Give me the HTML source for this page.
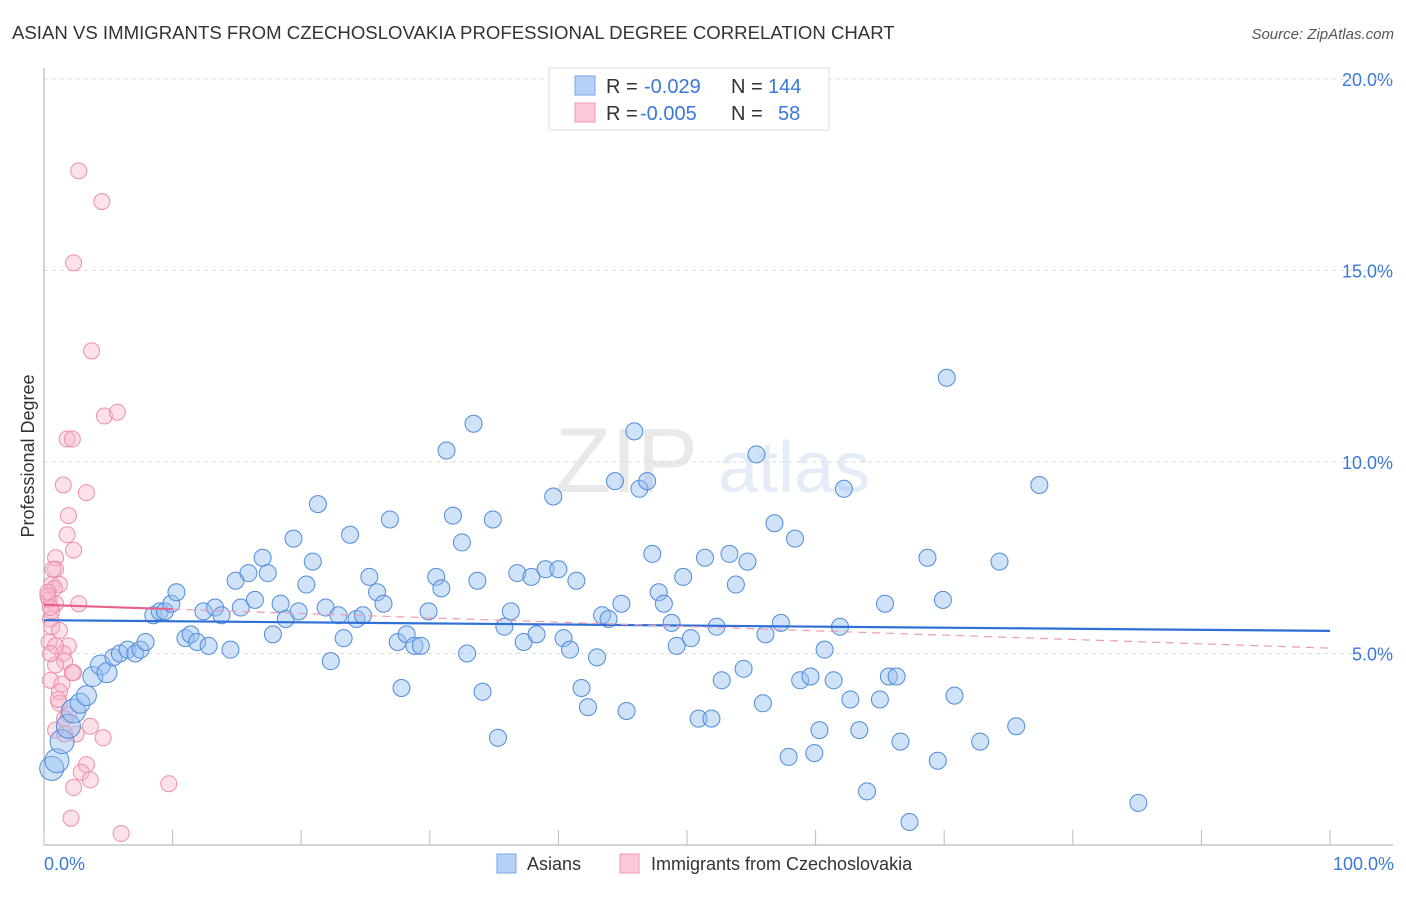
<!DOCTYPE html>
<html><head><meta charset="utf-8"><style>
body{margin:0;background:#fff;font-family:"Liberation Sans",sans-serif;}
svg text{font-family:"Liberation Sans",sans-serif;}
</style></head><body>
<svg width="1406" height="892" viewBox="0 0 1406 892">
<text x="12" y="39" font-size="18.6" fill="#333">ASIAN VS IMMIGRANTS FROM CZECHOSLOVAKIA PROFESSIONAL DEGREE CORRELATION CHART</text>
<text x="1394" y="39" font-size="15" fill="#555" font-style="italic" text-anchor="end">Source: ZipAtlas.com</text>
<g opacity="0.18">
<text x="555" y="492" font-size="92" fill="#888" font-family="Liberation Serif,serif">ZIP</text>
<text x="718" y="492" font-size="72" fill="#6a9ad8">atlas</text>
</g>
<g id="grid"></g>
<g id="axes"></g>
<g id="pink"></g>
<g id="blue"></g>
<g id="trend"></g>
<text x="34" y="456" font-size="18" fill="#333" text-anchor="middle" transform="rotate(-90 34 456)">Professional Degree</text>
<text x="44" y="870" font-size="18" fill="#3b78d8">0.0%</text>
<text x="1394" y="870" font-size="18" fill="#3b78d8" text-anchor="end">100.0%</text>
<g>
<rect x="549" y="68" width="280" height="62" fill="#fff" stroke="#ddd"/>
<rect x="575" y="76" width="20" height="19" fill="#b6d0f5" stroke="#7aa6e6"/>
<rect x="575" y="103" width="20" height="19" fill="#fac8d6" stroke="#ee9ab3"/>
<text x="606" y="93" font-size="20" fill="#333">R = </text><text x="644" y="93" font-size="20" fill="#3b78d8">-0.029</text>
<text x="731" y="93" font-size="20" fill="#333">N = </text><text x="768" y="93" font-size="20" fill="#3b78d8">144</text>
<text x="606" y="120" font-size="20" fill="#333">R = </text><text x="640" y="120" font-size="20" fill="#3b78d8">-0.005</text>
<text x="731" y="120" font-size="20" fill="#333">N = </text><text x="778" y="120" font-size="20" fill="#3b78d8">58</text>
</g>
<g>
<rect x="497" y="854" width="19" height="19" fill="#b6d0f5" stroke="#7aa6e6"/>
<text x="527" y="870" font-size="18" fill="#333">Asians</text>
<rect x="620" y="854" width="19" height="19" fill="#fac8d6" stroke="#ee9ab3"/>
<text x="651" y="870" font-size="18" fill="#333">Immigrants from Czechoslovakia</text>
</g>
</svg>
<script>
const yTicks=[5,10,15,20];
const yTickLabels=["5.0%","10.0%","15.0%","20.0%"];
const xTicks=[0,10,20,30,40,50,60,70,80,90,100];
const blueX=[0.6,1.0,1.4,1.9,2.3,2.8,3.3,3.8,4.4,4.9,5.4,5.9,6.5,7.1,7.5,7.9,8.5,9.0,9.4,9.9,10.3,11.0,11.4,11.9,12.4,12.8,13.3,13.8,14.5,14.9,15.3,15.9,16.4,17.0,17.4,17.8,18.4,18.8,19.4,19.8,20.4,20.9,21.3,21.9,22.3,22.9,23.3,23.8,24.3,24.8,25.3,25.9,26.4,26.9,27.5,27.8,28.2,28.8,29.3,29.9,30.5,30.9,31.3,31.8,32.5,32.9,33.4,33.7,34.1,34.9,35.3,35.8,36.3,36.8,37.3,37.9,38.3,39.0,39.6,40.0,40.4,40.9,41.4,41.8,42.3,43.0,43.4,43.9,44.4,44.9,45.3,45.9,46.3,46.9,47.3,47.8,48.2,48.8,49.2,49.7,50.3,50.9,51.4,51.9,52.3,52.7,53.3,53.8,54.4,54.7,55.4,55.9,56.1,56.8,57.3,57.9,58.4,58.8,59.6,59.9,60.3,60.7,61.4,61.9,62.2,62.7,63.4,64.0,65.0,65.4,65.7,66.3,66.6,67.3,68.7,69.5,69.9,70.2,70.8,72.8,74.3,75.6,77.4,85.1];
const blueY=[2.0,2.2,2.7,3.1,3.5,3.7,3.9,4.4,4.7,4.5,4.9,5.0,5.1,5.0,5.1,5.3,6.0,6.1,6.1,6.3,6.6,5.4,5.5,5.3,6.1,5.2,6.2,6.0,5.1,6.9,6.2,7.1,6.4,7.5,7.1,5.5,6.3,5.9,8.0,6.1,6.8,7.4,8.9,6.2,4.8,6.0,5.4,8.1,5.9,6.0,7.0,6.6,6.3,8.5,5.3,4.1,5.5,5.2,5.2,6.1,7.0,6.7,10.3,8.6,7.9,5.0,11.0,6.9,4.0,8.5,2.8,5.7,6.1,7.1,5.3,7.0,5.5,7.2,9.1,7.2,5.4,5.1,6.9,4.1,3.6,4.9,6.0,5.9,9.5,6.3,3.5,10.8,9.3,9.5,7.6,6.6,6.3,5.8,5.2,7.0,5.4,3.3,7.5,3.3,5.7,4.3,7.6,6.8,4.6,7.4,10.2,3.7,5.5,8.4,5.8,2.3,8.0,4.3,4.4,2.4,3.0,5.1,4.3,5.7,9.3,3.8,3.0,1.4,3.8,6.3,4.4,4.4,2.7,0.6,7.5,2.2,6.4,12.2,3.9,2.7,7.4,3.1,9.4,1.1];
const pinkX=[2.7,4.5,2.3,3.7,4.7,5.7,1.8,2.2,1.5,3.3,1.9,1.8,2.3,0.9,0.9,0.6,1.2,0.8,0.4,2.7,0.9,0.6,0.5,0.6,1.2,1.9,1.5,1.6,0.9,0.5,1.4,2.3,1.2,1.2,1.9,0.9,3.6,1.6,2.5,4.6,3.3,2.9,3.6,2.3,9.7,2.1,6.0,0.3,0.4,0.9,0.5,1.6,1.1,2.2,0.5,0.3,0.7];
const pinkY=[17.6,16.8,15.2,12.9,11.2,11.3,10.6,10.6,9.4,9.2,8.6,8.1,7.7,7.5,7.2,6.8,6.8,6.7,6.4,6.3,6.3,6.1,5.9,5.7,5.6,5.2,5.0,4.8,4.7,4.3,4.2,4.5,4.0,3.7,3.4,3.0,3.1,2.9,2.9,2.8,2.1,1.9,1.7,1.5,1.6,0.7,0.3,6.5,5.3,5.2,5.0,3.3,3.8,4.5,6.2,6.6,7.2];
const blueTrend=[5.87,5.59];
const pinkTrend=[6.27,5.14];
const pinkSolidEnd=10;

const NS="http://www.w3.org/2000/svg";
const X=v=>44+v*12.86;
const Y=v=>845-v*38.3;
function mk(tag,parent,attrs){const e=document.createElementNS(NS,tag);for(const k in attrs)e.setAttribute(k,attrs[k]);document.getElementById(parent).appendChild(e);return e;}
yTicks.forEach((t,i)=>{
 const l=mk('line','grid',{x1:44,x2:1393,y1:Y(t),y2:Y(t),stroke:'#ddd','stroke-dasharray':'4,4'});
 
 
 const tx=mk('text','grid',{x:1393,y:Y(t)+7,'font-size':18,fill:'#3b78d8','text-anchor':'end'});
 tx.textContent=yTickLabels[i];
 
 
});
const topLine=mk('line','grid',{x1:44,x2:1393,y1:79,y2:79,stroke:'#ddd','stroke-dasharray':'4,4'});


const ya=mk('line','axes',{x1:44,x2:44,y1:68,y2:845,stroke:'#aaa'});


const xa=mk('line','axes',{x1:44,x2:1393,y1:845,y2:845,stroke:'#aaa'});


xTicks.forEach(t=>{
 const l=mk('line','axes',{x1:X(t),x2:X(t),y1:830,y2:845,stroke:'#bbb'});
 
 
});
pinkX.forEach((v,i)=>{
 const c=mk('circle','pink',{cx:X(v),cy:Y(pinkY[i]),r:8,fill:'rgba(248,180,200,0.4)',stroke:'#ec8fac','stroke-width':1});
 
 
});
blueX.forEach((v,i)=>{
 const r=v<2.5?12:(v<5?10:8.5);
 const c=mk('circle','blue',{cx:X(v),cy:Y(blueY[i]),r:r,fill:'rgba(150,190,240,0.45)',stroke:'#4f8bdc','stroke-width':1});
 
 
});
const bl=mk('line','trend',{x1:X(0),x2:X(100),y1:Y(blueTrend[0]),y2:Y(blueTrend[1]),stroke:'#2f6fd6','stroke-width':2.2});


const pAt=x=>pinkTrend[0]+(pinkTrend[1]-pinkTrend[0])*x/100;
const ps=mk('line','trend',{x1:X(0),x2:X(pinkSolidEnd),y1:Y(pAt(0)),y2:Y(pAt(pinkSolidEnd)),stroke:'#e8638c','stroke-width':2.2});


const pd=mk('line','trend',{x1:X(pinkSolidEnd),x2:X(100),y1:Y(pAt(pinkSolidEnd)),y2:Y(pAt(100)),stroke:'#ee9ab3','stroke-width':1.2,'stroke-dasharray':'8,6'});


</script>
</body></html>
